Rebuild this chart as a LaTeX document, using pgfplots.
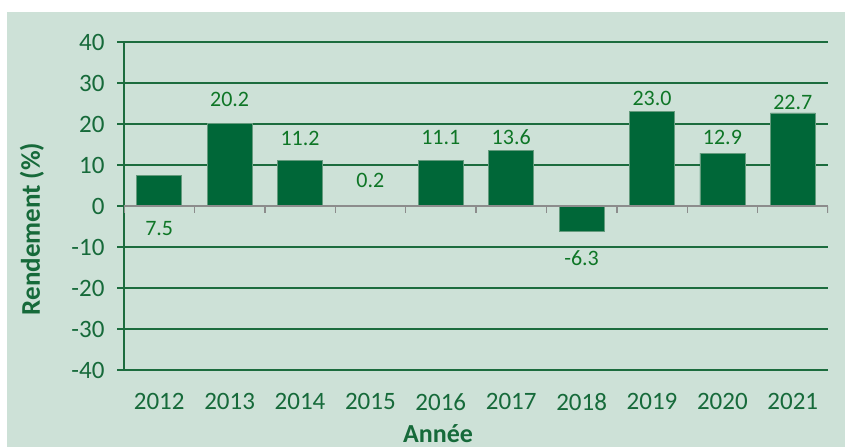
\documentclass[border=0pt]{standalone}
\usepackage{fontspec}
\setmainfont{Carlito}
\usepackage{pgfplots}
\pgfplotsset{compat=1.18}
\definecolor{bg}{RGB}{205,225,215}
\definecolor{barc}{RGB}{0,103,56}
\definecolor{barline}{RGB}{100,155,125}
\definecolor{gridc}{RGB}{28,108,62}
\definecolor{tickc}{RGB}{22,106,58}
\definecolor{labc}{RGB}{14,118,38}
\definecolor{zeroc}{RGB}{140,140,140}
\begin{document}
\begin{tikzpicture}
\fill[bg] (7pt,0pt) rectangle (845pt,435pt);
\useasboundingbox (0,0) rectangle (845pt,447pt);
\begin{axis}[
  at={(124pt,77pt)}, anchor=south west,
  width=704pt, height=328pt, scale only axis,
  xmin=-0.5, xmax=9.5, ymin=-40, ymax=40,
  ytick={-40,-30,...,40},
  xtick={0,...,9},
  xticklabels={2012,2013,2014,2015,2016,2017,2018,2019,2020,2021},
  axis x line*=bottom, axis y line*=left,
  x axis line style={draw=none},
  y axis line style={gridc, line width=1.4pt},
  xtick style={draw=none},
  ytick style={gridc, line width=1.4pt},
  major tick length=7pt, tick align=outside,
  ymajorgrids, major grid style={gridc, line width=1.4pt},
  /pgf/number format/assume math mode=true,
  ticklabel style={font=\fontsize{25}{29}\selectfont, text=tickc},
  xticklabel style={yshift=-13pt},
  yticklabel style={xshift=-9pt},
]
\addplot[ybar, bar width=45pt, bar shift=0pt, fill=barc, draw=barline, line width=0.8pt]
  coordinates {(0,7.5) (1,20.2) (2,11.2) (3,0.2) (4,11.1) (5,13.6) (6,-6.3) (7,23.0) (8,12.9) (9,22.7)};
\addplot[draw=none, mark=none, nodes near coords, point meta=explicit symbolic,
  every node near coord/.append style={anchor=center, text=labc, font=\fontsize{22}{26}\selectfont}]
  table[meta=t] {
x y t
0 -5.6 7.5
1 25.9 20.2
2 16.5 11.2
3 6.2 0.2
4 16.8 11.1
5 16.8 13.6
6 -12.6 -6.3
7 26.3 23.0
8 16.8 12.9
9 25.2 22.7
};
\draw[zeroc, line width=1.4pt] (axis cs:-0.5,0) -- (axis cs:9.5,0);
\draw[zeroc, line width=1.4pt] (axis cs:-0.5,0) -- ([yshift=-7pt]axis cs:-0.5,0);
\draw[zeroc, line width=1.4pt] (axis cs:0.5,0) -- ([yshift=-7pt]axis cs:0.5,0);
\draw[zeroc, line width=1.4pt] (axis cs:1.5,0) -- ([yshift=-7pt]axis cs:1.5,0);
\draw[zeroc, line width=1.4pt] (axis cs:2.5,0) -- ([yshift=-7pt]axis cs:2.5,0);
\draw[zeroc, line width=1.4pt] (axis cs:3.5,0) -- ([yshift=-7pt]axis cs:3.5,0);
\draw[zeroc, line width=1.4pt] (axis cs:4.5,0) -- ([yshift=-7pt]axis cs:4.5,0);
\draw[zeroc, line width=1.4pt] (axis cs:5.5,0) -- ([yshift=-7pt]axis cs:5.5,0);
\draw[zeroc, line width=1.4pt] (axis cs:6.5,0) -- ([yshift=-7pt]axis cs:6.5,0);
\draw[zeroc, line width=1.4pt] (axis cs:7.5,0) -- ([yshift=-7pt]axis cs:7.5,0);
\draw[zeroc, line width=1.4pt] (axis cs:8.5,0) -- ([yshift=-7pt]axis cs:8.5,0);
\draw[zeroc, line width=1.4pt] (axis cs:9.5,0) -- ([yshift=-7pt]axis cs:9.5,0);
\end{axis}
\node[rotate=90, font=\bfseries\fontsize{27}{31}\selectfont, text=tickc] at (32pt,218pt) {Rendement (\%)};
\node[inner sep=0pt, anchor=base, font=\bfseries\fontsize{26}{30}\selectfont, text=tickc] at (438pt,5pt) {Année};
\end{tikzpicture}
\end{document}
